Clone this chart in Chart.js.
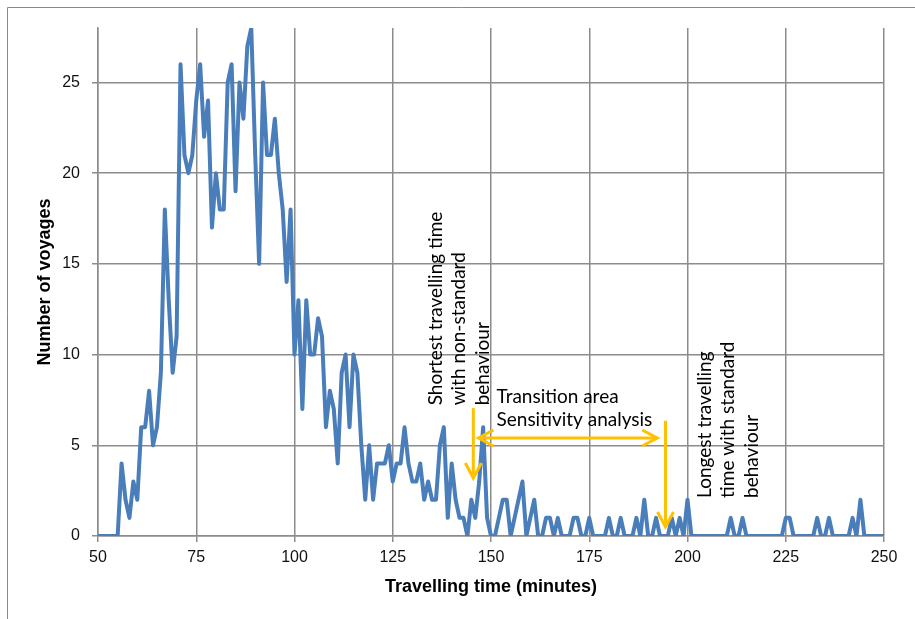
<!DOCTYPE html>
<html>
<head>
<meta charset="utf-8">
<script src="https://cdn.jsdelivr.net/npm/chart.js@4/dist/chart.umd.min.js"></script>
<style>
  html, body { margin: 0; padding: 0; background: #fff; }
  #wrap { width: 915px; height: 619px; position: relative; }
</style>
</head>
<body>
<div id="wrap"><canvas id="myChart" width="915" height="619"></canvas></div>
<script>
// travelling time in minutes (one point per minute)
const minutes = [
  50, 51, 52, 53, 54, 55, 56, 57, 58, 59, 60, 61, 62, 63, 64, 65, 66, 67, 68, 69,
  70, 71, 72, 73, 74, 75, 76, 77, 78, 79, 80, 81, 82, 83, 84, 85, 86, 87, 88, 89,
  90, 91, 92, 93, 94, 95, 96, 97, 98, 99, 100, 101, 102, 103, 104, 105, 106, 107, 108, 109,
  110, 111, 112, 113, 114, 115, 116, 117, 118, 119, 120, 121, 122, 123, 124, 125, 126, 127, 128, 129,
  130, 131, 132, 133, 134, 135, 136, 137, 138, 139, 140, 141, 142, 143, 144, 145, 146, 147, 148, 149,
  150, 151, 152, 153, 154, 155, 156, 157, 158, 159, 160, 161, 162, 163, 164, 165, 166, 167, 168, 169,
  170, 171, 172, 173, 174, 175, 176, 177, 178, 179, 180, 181, 182, 183, 184, 185, 186, 187, 188, 189,
  190, 191, 192, 193, 194, 195, 196, 197, 198, 199, 200, 201, 202, 203, 204, 205, 206, 207, 208, 209,
  210, 211, 212, 213, 214, 215, 216, 217, 218, 219, 220, 221, 222, 223, 224, 225, 226, 227, 228, 229,
  230, 231, 232, 233, 234, 235, 236, 237, 238, 239, 240, 241, 242, 243, 244, 245, 246, 247, 248, 249,
  250
];

// number of voyages for each minute
const voyages = [
  0, 0, 0, 0, 0, 0, 4, 2, 1, 3,
  2, 6, 6, 8, 5, 6, 9, 18, 13, 9,
  11, 26, 21, 20, 21, 24, 26, 22, 24, 17,
  20, 18, 18, 25, 26, 19, 25, 23, 27, 28,
  21, 15, 25, 21, 21, 23, 20, 18, 14, 18,
  10, 13, 7, 13, 10, 10, 12, 11, 6, 8,
  7, 4, 9, 10, 6, 10, 9, 5, 2, 5,
  2, 4, 4, 4, 5, 3, 4, 4, 6, 4,
  3, 3, 4, 2, 3, 2, 2, 5, 6, 1,
  4, 2, 1, 1, 0, 2, 1, 3, 6, 1,
  0, 0, 1, 2, 2, 0, 1, 2, 3, 0,
  1, 2, 0, 0, 1, 1, 0, 1, 0, 0,
  0, 1, 1, 0, 0, 1, 0, 0, 0, 0,
  1, 0, 0, 1, 0, 0, 0, 1, 0, 2,
  0, 0, 1, 0, 0, 0, 1, 0, 1, 0,
  2, 0, 0, 0, 0, 0, 0, 0, 0, 0,
  0, 1, 0, 0, 1, 0, 0, 0, 0, 0,
  0, 0, 0, 0, 0, 1, 1, 0, 0, 0,
  0, 0, 0, 1, 0, 0, 1, 0, 0, 0,
  0, 0, 1, 0, 2, 0, 0, 0, 0, 0,
  0
];

const xTicks = [50, 75, 100, 125, 150, 175, 200, 225, 250];
const yTicks = [0, 5, 10, 15, 20, 25];

const xTitle = 'Travelling time (minutes)';
const yTitle = 'Number of voyages';

// annotation texts
const noteShortest = ['Shortest travelling time', 'with non-standard', 'behaviour'];
const noteLongest = ['Longest travelling', 'time with standard', 'behaviour'];
const noteTransition = ['Transition area', 'Sensitivity analysis'];

const gridColor = '#8c8c8c';
const lineColor = '#4a7ebb';
const arrowColor = '#ffc000';
const noteFont = '19px Lato, "Liberation Sans", sans-serif';

// draw an arrow with open chevron heads
function drawArrow(ctx, x1, y1, x2, y2, both) {
  ctx.beginPath();
  ctx.moveTo(x1, y1);
  ctx.lineTo(x2, y2);
  ctx.stroke();
  const head = (tx, ty, fx, fy) => {
    const a = Math.atan2(ty - fy, tx - fx);
    const len = 15, spread = 8;
    const bx = tx - len * Math.cos(a), by = ty - len * Math.sin(a);
    const nx = -Math.sin(a) * spread, ny = Math.cos(a) * spread;
    ctx.beginPath();
    ctx.moveTo(bx + nx, by + ny);
    ctx.lineTo(tx, ty);
    ctx.lineTo(bx - nx, by - ny);
    ctx.stroke();
  };
  head(x2, y2, x1, y1);
  if (both) head(x1, y1, x2, y2);
}

// rotated text, read from bottom to top
function drawVerticalLines(ctx, lines, x0, step, yStart) {
  lines.forEach((t, i) => {
    ctx.save();
    ctx.translate(x0 + i * step, yStart);
    ctx.rotate(-Math.PI / 2);
    ctx.textAlign = 'left';
    ctx.textBaseline = 'middle';
    ctx.fillText(t, 0, 0);
    ctx.restore();
  });
}

const notesPlugin = {
  id: 'notes',
  beforeDraw(chart) {
    const ctx = chart.ctx;
    ctx.save();
    ctx.fillStyle = '#fff';
    ctx.fillRect(0, 0, chart.width, chart.height);
    // outer chart frame (only left and top visible)
    ctx.strokeStyle = '#8a8a8a';
    ctx.lineWidth = 1;
    ctx.beginPath();
    ctx.moveTo(7.5, chart.height);
    ctx.lineTo(7.5, 7.5);
    ctx.lineTo(chart.width, 7.5);
    ctx.stroke();
    ctx.restore();
  },
  afterDatasetsDraw(chart) {
    const ctx = chart.ctx;
    const xs = chart.scales.x, ys = chart.scales.y;
    const px = (v) => xs.getPixelForValue(v);
    const py = (v) => ys.getPixelForValue(v);
    const minutePx = px(51) - px(50);

    ctx.save();
    ctx.strokeStyle = arrowColor;
    ctx.lineWidth = 3;
    drawArrow(ctx, px(145.5), py(7.05), px(145.5), py(3.2), false);
    drawArrow(ctx, px(146.8), py(5.4), px(192.3), py(5.4), true);
    drawArrow(ctx, px(194.4), py(6.35), px(194.4), py(0.5), false);

    ctx.fillStyle = '#000';
    ctx.font = noteFont;
    ctx.textAlign = 'left';
    ctx.textBaseline = 'alphabetic';
    ctx.fillText(noteTransition[0], px(151.4), py(7.34));
    ctx.fillText(noteTransition[1], px(151.4), py(6.07));

    drawVerticalLines(ctx, noteShortest, px(135.9), 6 * minutePx, py(7.2));
    drawVerticalLines(ctx, noteLongest, px(204.3), 6 * minutePx, py(2.1));
    ctx.restore();
  }
};

const ctx = document.getElementById('myChart').getContext('2d');
const myChart = new Chart(ctx, {
  type: 'line',
  data: {
    datasets: [
      {
        label: 'Voyages',
        data: minutes.map((m, i) => ({ x: m, y: voyages[i] })),
        borderColor: lineColor,
        backgroundColor: lineColor,
        borderWidth: 4,
        borderJoinStyle: 'round',
        borderCapStyle: 'round',
        pointRadius: 0,
        tension: 0,
        fill: false,
      },
    ],
  },
  options: {
    responsive: false,
    animation: false,
    devicePixelRatio: 1,
    layout: { padding: { left: 0, top: 28, right: 31, bottom: 0 } },
    plugins: {
      legend: { display: false },
      tooltip: { enabled: false },
    },
    scales: {
      x: {
        type: 'linear',
        min: 50,
        max: 250,
        afterBuildTicks: (scale) => { scale.ticks = xTicks.map((v) => ({ value: v })); },
        afterFit: (scale) => { scale.height = 83; },
        grid: { color: gridColor, lineWidth: 1.5, tickLength: 6 },
        border: { color: gridColor, width: 1.5 },
        ticks: {
          color: '#111',
          padding: 6,
          maxRotation: 0,
          font: { family: '"Liberation Sans", Arial, sans-serif', size: 16 },
        },
        title: {
          display: true,
          text: xTitle,
          color: '#000',
          padding: { top: 0, bottom: 21 },
          font: { family: '"Liberation Sans", Arial, sans-serif', size: 18, weight: 'bold' },
        },
      },
      y: {
        min: 0,
        max: 28,
        afterBuildTicks: (scale) => { scale.ticks = yTicks.map((v) => ({ value: v })); },
        afterFit: (scale) => { scale.width = 98; },
        grid: { color: gridColor, lineWidth: 1.5, tickLength: 6 },
        border: { color: gridColor, width: 1.5 },
        ticks: {
          color: '#111',
          padding: 12,
          font: { family: '"Liberation Sans", Arial, sans-serif', size: 16 },
        },
        title: {
          display: true,
          text: yTitle,
          color: '#000',
          padding: { top: 34, bottom: 0 },
          font: { family: '"Liberation Sans", Arial, sans-serif', size: 18, weight: 'bold' },
        },
      },
    },
  },
  plugins: [notesPlugin],
});
</script>
</body>
</html>
